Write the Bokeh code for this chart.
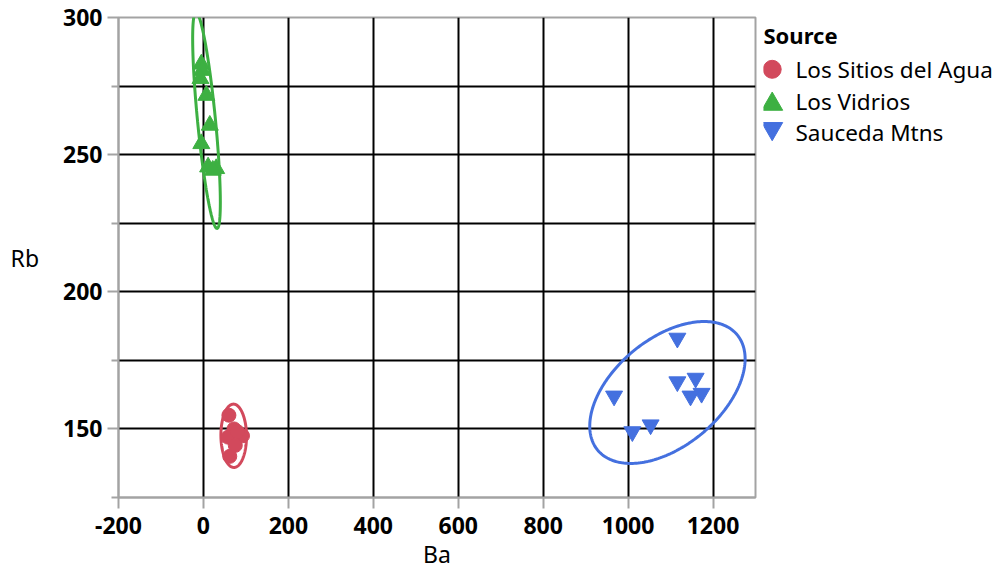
import numpy as np
from bokeh.plotting import figure
from bokeh.layouts import row
from bokeh.models import Range1d, FixedTicker
from bokeh.core.properties import value
from bokeh.embed import file_html
from bokeh.resources import INLINE

# ---- data ----
sources = ["Los Sitios del Agua", "Los Vidrios", "Sauceda Mtns"]
colors = ["#D2495C", "#3DB042", "#4470DF"]
markers = ["circle", "triangle", "inverted_triangle"]

agua_ba = [60, 72, 58, 92, 80, 62, 75]
agua_rb = [155, 150, 147, 147.5, 149, 140, 144]

vidrios_ba = [-5, -3, -7, 7, 15, -5, 11, 30, 22]
vidrios_rb = [283, 280.7, 277.7, 271.6, 260.7, 254.0, 245.5, 244.9, 244.3]

sauceda_ba = [1116, 967, 1116, 1159, 1173, 1147, 1010, 1053]
sauceda_rb = [183.1, 162, 167.2, 168.5, 163, 162, 149, 151.5]

x_ticks = [-200, 0, 200, 400, 600, 800, 1000, 1200]
y_ticks = [150, 200, 250, 300]
y_minor = [125, 175, 225, 275]

series_ba = [agua_ba, vidrios_ba, sauceda_ba]
series_rb = [agua_rb, vidrios_rb, sauceda_rb]

FONT = "Noto Sans"
GRAY = "#a3a3a3"

# layout (page pixels)
LEFT, TOP, FW, FH, RIGHT, BOTTOM = 118, 17, 637, 480, 8, 76
PAGE_W = 999


def density_ellipse(xs, ys, k=2.4477, n=240):
    X = np.vstack([np.asarray(xs, float), np.asarray(ys, float)])
    mu = X.mean(axis=1)
    S = np.cov(X)
    vals, vecs = np.linalg.eigh(S)
    t = np.linspace(0, 2 * np.pi, n)
    circ = np.vstack([np.cos(t), np.sin(t)])
    pts = mu[:, None] + k * (vecs @ (np.sqrt(vals)[:, None] * circ))
    return pts[0], pts[1]


p = figure(frame_width=FW, frame_height=FH,
           min_border_left=LEFT, min_border_right=RIGHT,
           min_border_top=TOP, min_border_bottom=BOTTOM,
           x_range=Range1d(-200, 1300), y_range=Range1d(125, 300),
           output_backend="svg", toolbar_location=None)

p.background_fill_color = "white"
p.border_fill_color = "white"
p.outline_line_color = GRAY
p.outline_line_width = 2

p.xaxis.ticker = FixedTicker(ticks=x_ticks)
p.yaxis.ticker = FixedTicker(ticks=y_ticks, minor_ticks=y_minor)
p.xaxis.major_label_overrides = {t: str(t) for t in x_ticks if t < 0}

p.xgrid.ticker = FixedTicker(ticks=[t for t in x_ticks if t > -200])
p.ygrid.ticker = FixedTicker(ticks=sorted([t for t in y_ticks + y_minor if 125 < t < 300]))
for g in (p.xgrid, p.ygrid):
    g.grid_line_color = "black"
    g.grid_line_width = 2

for ax in (p.xaxis, p.yaxis):
    ax.axis_line_color = GRAY
    ax.axis_line_width = 2
    ax.major_tick_line_color = GRAY
    ax.major_tick_line_width = 2
    ax.minor_tick_line_color = GRAY
    ax.minor_tick_line_width = 2
    ax.major_tick_in = 0
    ax.major_tick_out = 11
    ax.minor_tick_in = 0
    ax.minor_tick_out = 7
    ax.major_label_text_font = FONT
    ax.major_label_text_font_size = "23px"
    ax.major_label_text_font_style = "bold"
    ax.major_label_text_color = "black"
    ax.axis_label_text_font = FONT
    ax.axis_label_text_font_size = "23px"
    ax.axis_label_text_font_style = "normal"
    ax.axis_label_text_color = "black"

p.xaxis.minor_tick_out = 0
p.xaxis.axis_label = "Ba"
p.yaxis.axis_label = "Rb"
p.yaxis.axis_label_orientation = "horizontal"
p.xaxis.major_label_standoff = 8
p.yaxis.major_label_standoff = 5
p.xaxis.axis_label_standoff = 1
p.yaxis.axis_label_standoff = 21

sizes = [14, 17, 17]
for xs, ys, c, m, s in zip(series_ba, series_rb, colors, markers, sizes):
    ex, ey = density_ellipse(xs, ys)
    p.line(ex, ey, line_color=c, line_width=3)
    p.scatter(xs, ys, marker=m, size=s, fill_color=c, line_color=c)

# ---- legend panel (its frame spans the page columns right of the plot) ----
LX0 = LEFT + FW + RIGHT
LW = PAGE_W - LX0
leg = figure(width=LW, height=TOP + FH + BOTTOM,
             x_range=Range1d(LX0, PAGE_W), y_range=Range1d(TOP + FH, TOP),
             x_axis_type=None, y_axis_type=None,
             min_border_left=0, min_border_right=0,
             min_border_top=TOP, min_border_bottom=BOTTOM,
             output_backend="svg", toolbar_location=None)
leg.outline_line_color = None
leg.grid.visible = False
leg.background_fill_color = "white"
leg.border_fill_color = "white"

TEXT_SHIFT = -9
leg.text(x=[763], y=[43.3 + TEXT_SHIFT], text=["Source"], text_font=value(FONT),
         text_font_size="22px", text_font_style="bold", text_color="black",
         text_baseline="alphabetic", text_align="left")

row_base = 78.3
row_step = 31.4
marker_offset = {"circle": 0.0, "triangle": 3.5, "inverted_triangle": -3.5}
leg_sizes = {"circle": 18, "triangle": 21, "inverted_triangle": 21}
for i, (name, c, m) in enumerate(zip(sources, colors, markers)):
    base = row_base + i * row_step
    leg.scatter([771.7], [base - 9.5 + marker_offset[m]], marker=m, size=leg_sizes[m],
                fill_color=c, line_color=c)
    leg.text(x=[795], y=[base + TEXT_SHIFT], text=[name], text_font=value(FONT),
             text_font_size="22.5px", text_color="black",
             text_baseline="alphabetic", text_align="left")

layout = row(p, leg)
open("out.html", "w").write(file_html(layout, INLINE))
